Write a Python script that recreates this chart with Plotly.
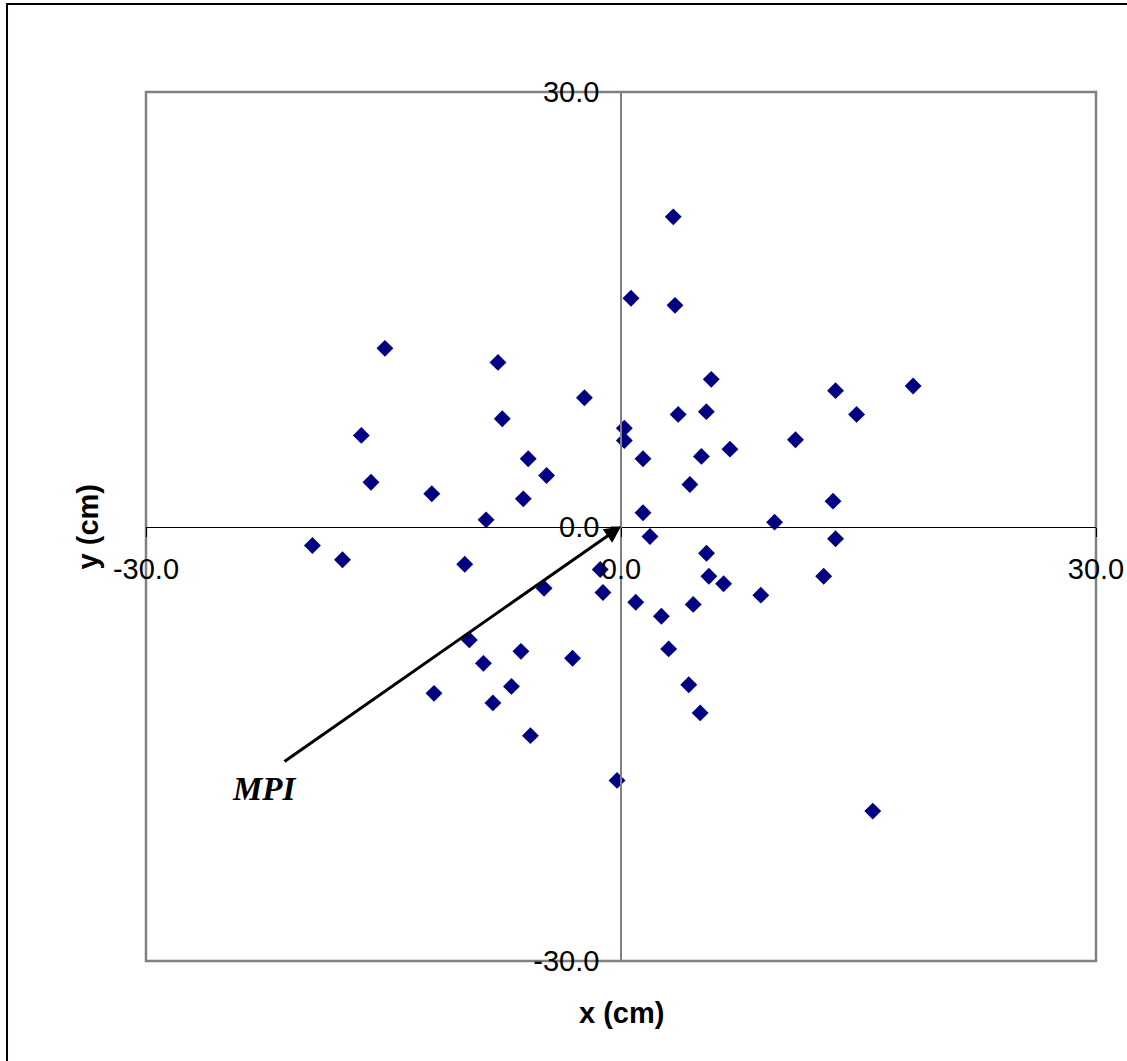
import plotly.graph_objects as go

# Shot coordinates (cm)
x_cm = [3.30, 0.63, 3.41, -14.91, -7.77, 5.70, 13.55, 18.45, -2.31, -7.50,
        3.61, 5.39, 14.88, -16.40, 0.21, 0.21, 11.02, 1.39, -5.86, 5.08,
        6.88, -4.70, -15.79, 4.35, -11.95, -6.17, 13.39, 1.39, -8.52, 9.70,
        1.83, 13.55, -19.49, -17.59, 5.40, -9.87, -1.31, 5.55, 6.48, 12.80,
        -4.86, -1.14, 0.93, 8.83, 2.55, 4.56, -9.58, -8.69, -6.32, -3.06,
        3.01, -11.81, -6.92, -8.09, 4.28, 5.00, -5.72, -0.25, 15.90]
y_cm = [21.38, 15.76, 15.27, 12.30, 11.33, 10.16, 9.38, 9.70, 8.89, 7.44,
        7.74, 7.93, 7.74, 6.29, 6.79, 5.94, 5.99, 4.68, 4.68, 4.84,
        5.34, 3.52, 3.06, 2.90, 2.26, 1.91, 1.75, 0.95, 0.46, 0.30,
        -0.69, -0.85, -1.31, -2.30, -1.85, -2.61, -2.97, -3.43, -3.95, -3.43,
        -4.26, -4.56, -5.23, -4.74, -6.20, -5.38, -7.83, -9.45, -8.62, -9.10,
        -8.45, -11.52, -11.04, -12.18, -10.93, -12.87, -14.44, -17.53, -19.65]

tick_vals = [-30, 0, 30]
tick_text = ["-30.0", "0.0", "30.0"]

# MPI (arrow head) and arrow tail / label positions
mpi_x, mpi_y = 0.0, 0.0
tail_x, tail_y = -21.35, -16.3
label_x, label_y = -22.5, -18.1

fig = go.Figure()
fig.add_trace(go.Scatter(
    x=x_cm, y=y_cm, mode="markers",
    marker=dict(symbol="diamond", size=13, color="#000080",
                line=dict(width=0)),
    showlegend=False, hoverinfo="x+y"))

tick_font = dict(family="Liberation Sans, Arial, sans-serif", size=29, color="black")
title_font = dict(family="Liberation Sans, Arial, sans-serif", size=29, color="black")

fig.update_layout(
    width=1127, height=1061,
    autosize=False,
    margin=dict(l=146, r=31, t=92, b=100, autoexpand=False),
    paper_bgcolor="white", plot_bgcolor="white",
    showlegend=False,
    xaxis=dict(range=[-30, 30], showgrid=False, zeroline=False,
               tickvals=tick_vals, ticktext=tick_text,
               anchor="free", position=0.5, automargin=False,
               showline=True, linecolor="black", linewidth=1,
               ticks="outside", ticklen=9, tickcolor="black", tickwidth=1,
               ticklabelstandoff=8, ticklabeloverflow="allow",
               tickfont=tick_font),
    yaxis=dict(range=[-30, 30], showgrid=False, zeroline=False,
               tickvals=tick_vals, ticktext=tick_text,
               anchor="free", position=0.5, automargin=False,
               showline=True, linecolor="#808080", linewidth=1.5,
               ticks="outside", ticklen=9, tickcolor="#808080", tickwidth=1,
               ticklabelstandoff=6, ticklabeloverflow="allow",
               tickfont=tick_font),
    shapes=[
        dict(type="rect", xref="paper", yref="paper", x0=0, x1=1, y0=0, y1=1,
             line=dict(color="#808080", width=2.5), layer="below"),
        dict(type="rect", xref="paper", yref="paper",
             x0=-0.1463, x1=1.5, y0=-0.3, y1=1.1013,
             line=dict(color="black", width=2), layer="below"),
    ],
    annotations=[
        dict(x=mpi_x, y=mpi_y, ax=tail_x, ay=tail_y, xref="x", yref="y",
             axref="x", ayref="y", text="", showarrow=True,
             arrowhead=2, arrowsize=1.1, arrowwidth=3, arrowcolor="black",
             standoff=0),
        dict(x=label_x, y=label_y, xref="x", yref="y", text="<b><i>MPI</i></b>",
             showarrow=False,
             font=dict(family="Liberation Serif, Times New Roman, serif", size=33, color="black")),
        dict(x=0.5, y=-0.0598, xref="paper", yref="paper", text="<b>x (cm)</b>",
             showarrow=False, yanchor="middle", font=title_font),
        dict(x=-0.0611, y=0.5, xref="paper", yref="paper", text="<b>y (cm)</b>",
             showarrow=False, textangle=-90, xanchor="center", font=title_font),
    ],
)

fig.write_html("out.html",
               config={"responsive": False, "displayModeBar": False},
               post_script="document.body.style.margin='0';document.body.style.overflow='hidden';")
